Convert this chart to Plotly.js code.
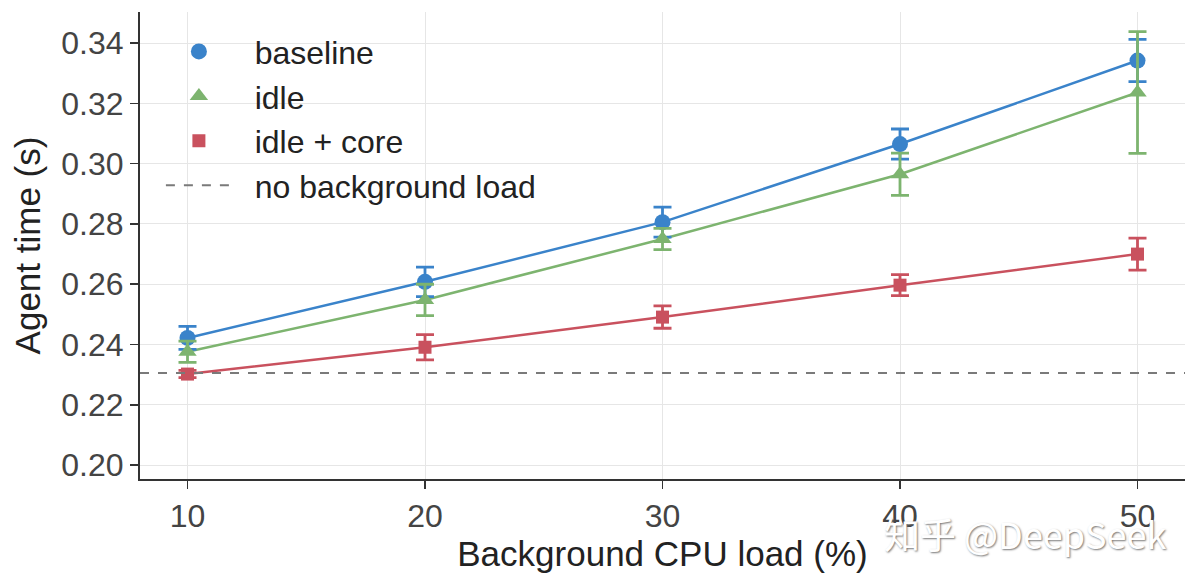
<!DOCTYPE html>
<html>
<head>
<meta charset="utf-8">
<script src="https://cdn.plot.ly/plotly-3.0.1.min.js"></script>
<style>html,body{margin:0;padding:0;background:#fff;}#chart{width:1200px;height:586px;}</style>
</head>
<body>
<div id="chart"></div>
<script>
const cpuLoad = [10, 20, 30, 40, 50];
const baselineTime = [0.2422, 0.2608, 0.2806, 0.3065, 0.3342];
const baselineErr = [0.0038, 0.0049, 0.0050, 0.0050, 0.0070];
const idleTime = [0.2376, 0.2548, 0.2750, 0.2965, 0.3236];
const idleErr = [0.0035, 0.0052, 0.0035, 0.0070, 0.0202];
const idleCoreTime = [0.2302, 0.2391, 0.2491, 0.2597, 0.2700];
const idleCoreErr = [0.0012, 0.0042, 0.0037, 0.0035, 0.0053];
const noLoadTime = 0.2306;
const xRange = [8, 52];
const yTicks = [0.20, 0.22, 0.24, 0.26, 0.28, 0.30, 0.32, 0.34];
const xTicks = [10, 20, 30, 40, 50];

const seriesNames = ['baseline', 'idle', 'idle + core', 'no background load'];
const colors = {blue: '#3a83ca', green: '#7db46f', red: '#c9515e', gray: '#7a7a7a'};

const FONT = 'Liberation Sans, Arial, sans-serif';
const PAD = '\u00A0\u00A0';

function lineTrace(y, color) {
  return {x: cpuLoad, y: y, mode: 'lines', line: {color: color, width: 2.5},
          showlegend: false, hoverinfo: 'skip'};
}
function pointTrace(y, err, name, color, symbol, size) {
  return {x: cpuLoad, y: y, mode: 'markers', name: PAD + name,
          marker: {color: color, symbol: symbol, size: size},
          error_y: {type: 'data', array: err, visible: true, color: color, thickness: 2.8, width: 9}};
}

const traces = [
  lineTrace(baselineTime, colors.blue),
  lineTrace(idleTime, colors.green),
  lineTrace(idleCoreTime, colors.red),
  pointTrace(baselineTime, baselineErr, seriesNames[0], colors.blue, 'circle', 16),
  pointTrace(idleTime, idleErr, seriesNames[1], colors.green, 'triangle-up', 16),
  pointTrace(idleCoreTime, idleCoreErr, seriesNames[2], colors.red, 'square', 13),
  {x: xRange, y: [noLoadTime, noLoadTime], mode: 'lines', name: PAD + seriesNames[3],
   line: {color: colors.gray, width: 2, dash: 'dash'}}
];

const layout = {
  width: 1200, height: 586,
  margin: {l: 140, r: 15, t: 12, b: 107},
  paper_bgcolor: '#ffffff', plot_bgcolor: '#ffffff',
  font: {family: FONT, color: '#333333'},
  showlegend: true,
  legend: {x: 0.02, y: 0.974, xanchor: 'left', yanchor: 'top',
           bgcolor: 'rgba(255,255,255,0)', borderwidth: 0,
           font: {size: 32, color: '#222222', family: FONT},
           itemwidth: 66, tracegroupgap: 0},
  xaxis: {range: xRange, tickvals: xTicks, ticktext: xTicks.map(String),
          showgrid: true, gridcolor: '#e6e6e6', gridwidth: 1, zeroline: false,
          showline: true, linecolor: '#333333', linewidth: 2,
          ticks: 'outside', ticklen: 8, tickwidth: 1.5, tickcolor: '#333333',
          tickfont: {size: 32, color: '#444444', family: FONT},
          title: {text: 'Background CPU load (%)', font: {size: 35, color: '#222222', family: FONT}, standoff: 8}},
  yaxis: {range: [0.1954, 0.3503], tickvals: yTicks, ticktext: yTicks.map(v => v.toFixed(2)),
          showgrid: true, gridcolor: '#e6e6e6', gridwidth: 1, zeroline: false,
          showline: true, linecolor: '#333333', linewidth: 2,
          ticks: 'outside', ticklen: 8, tickwidth: 1.5, tickcolor: '#333333',
          tickfont: {size: 32, color: '#444444', family: FONT},
          title: {text: 'Agent time (s)', font: {size: 35, color: '#222222', family: FONT}, standoff: 10}},
  annotations: [{
    xref: 'paper', yref: 'paper', x: 0.847, y: -0.116, xanchor: 'center', yanchor: 'middle',
    text: '知乎 @DeepSeek', showarrow: false,
    font: {size: 36, color: '#ffffff', family: 'Noto Sans CJK SC, Liberation Sans, sans-serif',
           shadow: '1px 1px 2px #777777'}
  }]
};

Plotly.newPlot('chart', traces, layout, {displayModeBar: false, staticPlot: true});
</script>
</body>
</html>
